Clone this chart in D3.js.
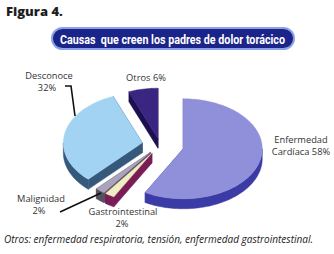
<!DOCTYPE html>
<html><head><meta charset="utf-8">
<script src="https://cdn.jsdelivr.net/npm/d3@7"></script>
<style>html,body{margin:0;padding:0;background:#fff;}svg{display:block;}</style>
</head><body>
<svg id="c" width="334" height="254"></svg>
<script>
const categories = ["Enfermedad Cardíaca", "Gastrointestinal", "Malignidad", "Desconoce", "Otros"];
const values = [58, 2, 2, 32, 6];
const valueLabels = ["58%", "2%", "2%", "32%", "6%"];
const titleText = "Causas  que creen los padres de dolor torácico";
const figureText = "Figura 4.";
const footText = "Otros: enfermedad respiratoria, tensión, enfermedad gastrointestinal.";

const svg = d3.select("#c");

// Figure label
svg.append("text").attr("x", 6).attr("y", 16)
  .attr("font-family", "'Open Sans', 'DejaVu Sans', sans-serif").attr("font-weight", 800)
  .attr("font-size", 13).attr("fill", "#1e1e1e").text(figureText);

// Title pill
const tg = svg.append("g");
tg.append("rect").attr("x", 52).attr("y", 28).attr("width", 242).attr("height", 21).attr("rx", 10.5)
  .attr("fill", "#1b2489").attr("stroke", "#8da2e6").attr("stroke-width", 2);
tg.append("text").attr("x", 60).attr("y", 43.5)
  .style("white-space", "pre")
  .attr("font-family", "Roboto, 'DejaVu Sans', sans-serif").attr("font-weight", "bold")
  .attr("font-size", 13).attr("fill", "#fff")
  .attr("textLength", 225).attr("lengthAdjust", "spacingAndGlyphs").text(titleText);

// 3D exploded pie
const cx0 = 160, cy0 = 145, rx = 79, ry = 50, depth = 10;
const explode = [24, 15, 15, 18, 11];
const topColors = ["#8f8fda", "#f0ecc4", "#aaa3ba", "#a3d3f2", "#3a2580"];
const sideColors = ["#3b3ba6", "#7a1c55", "#55505e", "#36597b", "#1d1050"];

const pie = d3.pie().sort(null).startAngle(0).endAngle(2 * Math.PI).value(d => d);
const arcs = pie(values);

function pt(c, a, dy) { return [c[0] + rx * Math.sin(a), c[1] - ry * Math.cos(a) + (dy || 0)]; }
function arcPts(c, a0, a1, dy) {
  const n = Math.max(2, Math.ceil((a1 - a0) / 0.03));
  return d3.range(n + 1).map(i => pt(c, a0 + (a1 - a0) * i / n, dy));
}
const line = d3.line();

const slices = arcs.map((d, i) => {
  const mid = (d.startAngle + d.endAngle) / 2;
  const e = explode[i];
  const c = [cx0 + e * Math.sin(mid), cy0 - e * Math.cos(mid) * ry / rx];
  return { d, i, c };
});
const order = [4, 3, 0, 2, 1];
const pg = svg.append("g");
order.forEach(i => {
  const s = slices[i], c = s.c, a0 = s.d.startAngle, a1 = s.d.endAngle;
  const g = pg.append("g");
  const side = sideColors[i];
  [a0, a1].forEach(a => {
    const p = pt(c, a);
    const poly = [c, p, [p[0], p[1] + depth], [c[0], c[1] + depth]];
    g.append("path").attr("d", line(poly) + "Z").attr("fill", side).attr("stroke", side).attr("stroke-width", 0.5);
  });
  const f0 = Math.max(a0, Math.PI / 2), f1 = Math.min(a1, 3 * Math.PI / 2);
  if (f1 > f0) {
    const topA = arcPts(c, f0, f1, 0), botA = arcPts(c, f0, f1, depth).reverse();
    g.append("path").attr("d", line(topA.concat(botA)) + "Z").attr("fill", side).attr("stroke", side).attr("stroke-width", 0.5);
  }
  const topPoly = [c].concat(arcPts(c, a0, a1, 0));
  g.append("path").attr("d", line(topPoly) + "Z").attr("fill", topColors[i]).attr("stroke", topColors[i]).attr("stroke-width", 0.4);
});

// Labels
const lf = "'Open Sans', 'DejaVu Sans', sans-serif";
const labelColor = "#333";
function lbl(x, y, t) {
  svg.append("text").attr("x", x).attr("y", y).attr("text-anchor", "middle")
    .attr("font-family", lf).attr("font-size", 9.3).attr("fill", labelColor).text(t);
}
lbl(49, 79, "Desconoce"); lbl(47, 91, valueLabels[3]);
lbl(146, 81, categories[4] + " " + valueLabels[4]);
lbl(301, 143, "Enfermedad"); lbl(301, 155, "Cardíaca " + valueLabels[0]);
lbl(41, 202, categories[2]); lbl(39, 214, valueLabels[2]);
lbl(123, 215, categories[1]); lbl(122, 227, valueLabels[1]);

// leader lines
svg.append("path").attr("d", "M65,86 L71,86 L75,116").attr("fill", "none").attr("stroke", "#111").attr("stroke-width", 1.6);
svg.append("path").attr("d", "M60,212 L101,193").attr("fill", "none").attr("stroke", "#111").attr("stroke-width", 1.6);

// Footer
svg.append("text").attr("x", 4).attr("y", 243).attr("font-family", lf).attr("font-style", "italic")
  .attr("font-size", 10).attr("fill", "#222").attr("textLength", 309).attr("lengthAdjust", "spacingAndGlyphs").text(footText);
</script>
</body></html>
